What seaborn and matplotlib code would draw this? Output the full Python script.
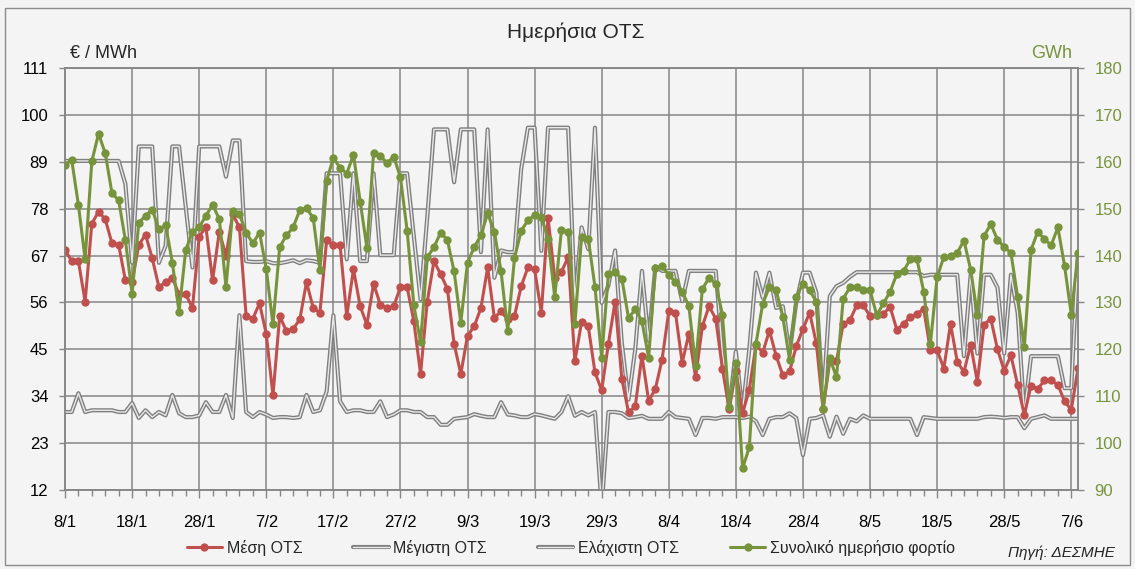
import matplotlib
matplotlib.use("Agg")
import matplotlib.pyplot as plt
import matplotlib.dates as mdates
import matplotlib.patheffects as pe
from matplotlib.patches import Rectangle
import pandas as pd
import seaborn as sns

# daily values 8/1 .. 8/6
first_day = "2014-01-08"

avg_price = [68.3, 65.7, 65.7, 56.2, 74.5, 77.3, 75.5, 69.9, 69.5, 61.2,
             60.8, 69.5, 71.9, 66.4, 59.6, 60.8, 61.8, 57.9, 57.9, 54.7,
             71.4, 73.7, 61.2, 72.6, 66.9, 76.7, 73.6, 52.8, 52.2, 55.8,
             48.6, 34.2, 52.8, 49.3, 49.8, 52.0, 60.8, 54.7, 53.6, 70.6,
             69.5, 69.5, 52.8, 63.8, 55.1, 50.8, 60.4, 55.5, 54.7, 55.1,
             59.6, 59.6, 51.6, 39.2, 56.2, 65.7, 62.6, 59.2, 46.3, 39.2,
             48.2, 50.4, 54.7, 64.2, 52.4, 53.9, 52.0, 52.8, 59.8, 64.2,
             63.8, 53.6, 75.9, 61.8, 63.2, 66.6, 42.2, 51.4, 50.4, 39.6,
             35.4, 46.3, 56.2, 38.1, 30.2, 31.6, 43.5, 32.9, 35.7, 42.6,
             53.9, 53.6, 41.8, 48.7, 38.4, 50.4, 55.1, 52.2, 40.4, 31.0,
             40.0, 30.0, 35.5, 46.1, 44.2, 49.4, 43.5, 38.9, 39.8, 45.7,
             49.8, 53.6, 46.4, 31.0, 42.2, 42.2, 51.0, 51.8, 55.3, 55.3,
             52.8, 53.0, 53.4, 54.9, 49.6, 51.0, 52.6, 53.3, 54.5, 44.8,
             44.8, 40.5, 51.0, 42.1, 39.7, 46.1, 37.4, 50.8, 52.2, 45.0,
             40.0, 43.6, 36.7, 29.6, 36.5, 35.7, 37.7, 37.7, 36.7, 32.8,
             30.8, 40.6]

max_price = [89.2, 89.2, 89.2, 89.2, 89.2, 89.2, 89.2, 89.2, 89.2, 83.8,
             65.3, 92.6, 92.6, 92.6, 65.3, 69.3, 92.6, 92.6, 78.5, 64.2,
             92.6, 92.6, 92.6, 92.6, 85.5, 94.0, 94.0, 65.7, 65.5, 65.5,
             65.7, 65.2, 65.2, 65.5, 65.9, 65.2, 65.9, 65.7, 65.3, 86.3,
             86.3, 86.3, 66.1, 86.3, 65.7, 65.7, 86.3, 67.1, 67.1, 67.1,
             86.3, 86.3, 71.5, 56.7, 76.0, 96.6, 96.6, 96.6, 84.2, 96.6,
             96.6, 96.6, 67.8, 96.6, 61.8, 68.2, 67.8, 67.8, 87.3, 97.0,
             97.0, 68.1, 97.0, 97.0, 97.0, 97.0, 56.5, 73.6, 68.5, 97.0,
             55.9, 60.0, 68.2, 46.5, 33.2, 45.0, 63.4, 47.0, 64.5, 63.4,
             63.4, 63.4, 56.3, 63.4, 63.4, 63.4, 63.4, 63.4, 44.0, 31.5,
             44.5, 30.5, 45.0, 63.0, 57.1, 63.0, 54.7, 55.1, 44.2, 56.0,
             63.0, 63.0, 58.3, 32.4, 57.5, 59.8, 60.6, 62.0, 63.1, 63.1,
             63.1, 63.1, 63.1, 63.1, 63.1, 63.1, 63.1, 63.1, 62.2, 62.5,
             62.5, 62.5, 62.5, 62.5, 43.4, 62.5, 44.0, 62.5, 62.5, 59.5,
             44.0, 62.5, 53.6, 30.0, 43.4, 43.4, 43.4, 43.4, 43.4, 35.9,
             35.9, 67.7]

min_price = [30.3, 30.3, 34.7, 30.3, 30.7, 30.7, 30.7, 30.7, 30.3, 30.3,
             32.4, 28.9, 30.7, 29.1, 30.3, 29.5, 34.3, 30.0, 29.1, 29.1,
             29.5, 32.6, 30.3, 30.3, 34.3, 28.9, 53.0, 30.3, 29.1, 30.3,
             29.7, 28.9, 29.1, 29.1, 28.9, 29.1, 34.3, 30.3, 30.7, 35.1,
             53.0, 32.8, 30.3, 30.7, 30.7, 30.3, 30.3, 32.8, 29.1, 29.7,
             30.7, 30.7, 30.3, 30.3, 29.1, 29.1, 27.3, 27.3, 28.7, 28.9,
             29.1, 29.8, 29.4, 29.1, 29.1, 32.6, 29.7, 29.5, 29.1, 29.1,
             29.8, 29.5, 29.1, 28.7, 30.3, 34.0, 29.4, 30.3, 29.5, 30.3,
             8.0, 30.3, 30.3, 30.0, 28.9, 29.1, 29.4, 28.7, 28.7, 28.7,
             30.3, 29.1, 28.9, 28.7, 24.9, 28.9, 28.9, 28.7, 29.1, 29.1,
             29.1, 28.9, 29.2, 28.1, 24.9, 28.7, 29.1, 29.1, 30.0, 28.9,
             20.2, 28.7, 28.9, 29.5, 24.5, 29.2, 25.2, 28.7, 28.1, 29.5,
             28.7, 28.7, 28.7, 28.7, 28.7, 28.7, 28.7, 24.9, 29.1, 28.9,
             28.7, 28.7, 28.7, 28.7, 28.7, 28.7, 28.7, 29.1, 29.2, 29.1,
             28.9, 29.1, 29.1, 26.5, 28.7, 29.1, 29.5, 28.7, 28.7, 28.7,
             28.7, 28.7]

daily_load = [159.4, 160.4, 150.8, 139.2, 160.1, 166.0, 161.8, 153.3, 151.8, 143.3,
              131.9, 147.0, 148.5, 149.8, 145.6, 146.5, 138.5, 128.0, 141.2, 145.1,
              146.0, 148.5, 150.8, 147.8, 133.3, 149.5, 148.8, 144.9, 142.6, 144.9,
              137.1, 125.3, 141.8, 144.3, 146.0, 149.7, 150.1, 148.0, 136.9, 156.0,
              160.8, 158.7, 157.5, 161.5, 151.5, 141.7, 161.8, 161.3, 159.7, 161.1,
              156.7, 145.3, 129.4, 121.5, 139.6, 141.8, 144.9, 143.3, 136.6, 125.7,
              138.5, 141.8, 144.3, 149.0, 145.1, 136.6, 124.0, 139.4, 145.3, 147.5,
              148.6, 148.3, 143.6, 131.2, 145.4, 145.1, 125.3, 144.0, 143.6, 133.3,
              118.2, 136.0, 136.5, 135.1, 126.7, 128.5, 126.0, 118.2, 137.4, 137.8,
              135.8, 134.4, 132.3, 129.2, 116.5, 132.8, 135.3, 133.9, 127.4, 107.7,
              117.1, 94.6, 99.1, 121.2, 129.7, 133.3, 132.6, 126.9, 117.8, 131.2,
              134.0, 132.6, 130.1, 107.3, 118.2, 114.0, 130.8, 133.2, 133.2, 132.6,
              132.6, 127.3, 129.8, 132.3, 136.1, 136.7, 139.2, 139.2, 132.3, 121.2,
              135.4, 139.7, 139.8, 140.6, 143.2, 137.0, 127.3, 144.2, 146.7, 143.4,
              141.8, 140.6, 131.2, 120.5, 141.2, 145.1, 143.5, 142.2, 146.0, 137.8,
              127.4, 140.6]

price_ticks = [12, 23, 34, 45, 56, 67, 78, 89, 100, 111]
load_ticks = [90, 100, 110, 120, 130, 140, 150, 160, 170, 180]
series_names = ["Μέση ΟΤΣ", "Μέγιστη ΟΤΣ", "Ελάχιστη ΟΤΣ", "Συνολικό ημερήσιο φορτίο"]

RED = "#C0504D"
GREEN = "#77933C"
GRID = "#868686"
BG = "#F4F4F4"

df = pd.DataFrame({
    "date": pd.date_range(first_day, periods=len(avg_price), freq="D"),
    "avg": avg_price,
    "max": max_price,
    "min": min_price,
    "load": daily_load,
})

sns.set_theme(style="white")
plt.rcParams["font.family"] = ["Liberation Sans", "DejaVu Sans"]

fig = plt.figure(figsize=(11.35, 5.69), dpi=100, facecolor=BG)
ax = fig.add_axes([65 / 1135, 1 - 490 / 569, 1013 / 1135, 422 / 569])
ax.set_facecolor(BG)
ax2 = ax.twinx()

# excel-style "double" line for max / min
double = [pe.Stroke(linewidth=3.0, foreground="#7F7F7F"), pe.Normal()]

sns.lineplot(data=df, x="date", y="max", ax=ax, color="#E8E8E8", linewidth=1.0,
             path_effects=double, label=series_names[1], zorder=3)
sns.lineplot(data=df, x="date", y="min", ax=ax, color="#E8E8E8", linewidth=1.0,
             path_effects=double, label=series_names[2], zorder=3)
sns.lineplot(data=df, x="date", y="avg", ax=ax, color=RED, linewidth=2.2,
             marker="o", markersize=6, markeredgewidth=0, label=series_names[0], zorder=4)
sns.lineplot(data=df, x="date", y="load", ax=ax2, color=GREEN, linewidth=2.2,
             marker="o", markersize=6, markeredgewidth=0, label=series_names[3], zorder=5)

# axes
ax.set_ylim(price_ticks[0], price_ticks[-1])
ax.set_yticks(price_ticks)
ax2.set_ylim(load_ticks[0], load_ticks[-1])
ax2.set_yticks(load_ticks)
ax.set_xlim(df["date"].iloc[0], df["date"].iloc[-1])
ax.set_xticks(df["date"].iloc[::10])
ax.set_xticks(df["date"].iloc[::2], minor=True)
ax.xaxis.set_major_formatter(mdates.DateFormatter("%-d/%-m"))
ax.set_xlabel("")
ax.set_ylabel("")
ax2.set_ylabel("")

ax.grid(True, which="major", color=GRID, linewidth=1.1)
ax.set_axisbelow(True)
for a in (ax, ax2):
    for s in a.spines.values():
        s.set_color(GRID)
        s.set_linewidth(1.1)

ax.tick_params(axis="y", which="major", length=4, width=1, color=GRID, pad=8,
               labelsize=12, labelcolor="black", left=True)
ax.tick_params(axis="x", which="major", length=6, width=1, color=GRID, pad=12,
               labelsize=12, labelcolor="black", bottom=True)
ax.tick_params(axis="x", which="minor", length=4, width=1, color=GRID, bottom=True)
ax2.tick_params(axis="y", length=4, width=1, color=GRID, pad=8,
                labelsize=12, labelcolor=GREEN, right=True)

# legend
h1, l1 = ax.get_legend_handles_labels()
h2, l2 = ax2.get_legend_handles_labels()
ax.get_legend().remove()
ax2.get_legend().remove()
handles = dict(zip(l1 + l2, h1 + h2))
fig.legend([handles[n] for n in series_names], series_names, loc="center",
           bbox_to_anchor=(0.503, 1 - 548 / 569), ncol=4, frameon=False,
           fontsize=11.5, handlelength=2.2, handletextpad=0.3, columnspacing=3.2)

# texts
fig.text(0.507, 1 - 32 / 569, "Ημερήσια ΟΤΣ", ha="center", va="center", fontsize=15)
fig.text(70 / 1135, 1 - 53 / 569, "€ / MWh", ha="left", va="center", fontsize=13)
fig.text(1072 / 1135, 1 - 53 / 569, "GWh", ha="right", va="center", fontsize=13, color=GREEN)
fig.text(1115 / 1135, 1 - 553 / 569, "Πηγή: ΔΕΣΜΗΕ", ha="right", va="center",
         fontsize=11, style="italic")

fig.patches.append(Rectangle((5 / 1135, 4 / 569), 1125 / 1135, 557 / 569,
                             transform=fig.transFigure, fill=False,
                             edgecolor="#8C8C8C", linewidth=1))

fig.savefig("out.png", dpi=100, facecolor=BG)
